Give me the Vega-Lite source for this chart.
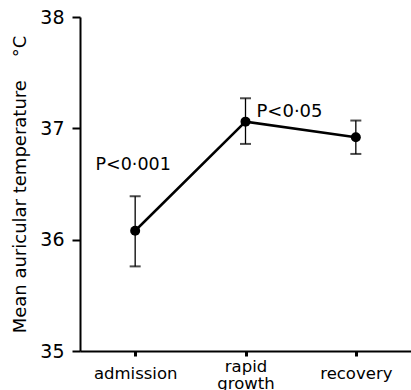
{
  "$schema": "https://vega.github.io/schema/vega-lite/v6.json",
  "width": 331,
  "height": 334,
  "autosize": {"type": "none"},
  "padding": {"left": 80, "top": 17, "right": 0, "bottom": 39},
  "background": "white",
  "config": {
    "view": {"stroke": null},
    "font": "DejaVu Sans"
  },
  "data": {
    "values": [
      {"phase": "admission", "mean": 36.08, "low": 35.76, "high": 36.39, "label": "P<0·001", "labelY": 36.67},
      {"phase": "rapid growth", "mean": 37.06, "low": 36.86, "high": 37.27, "label": "P<0·05", "labelY": 37.15},
      {"phase": "recovery", "mean": 36.92, "low": 36.77, "high": 37.07, "label": null, "labelY": null}
    ]
  },
  "encoding": {
    "x": {
      "field": "phase",
      "type": "nominal",
      "sort": ["admission", "rapid growth", "recovery"],
      "scale": {"type": "point", "padding": 0.5},
      "axis": {
        "title": null,
        "labelAngle": 0,
        "labelExpr": "datum.label == 'rapid growth' ? ['rapid', 'growth'] : datum.label",
        "labelBaseline": "middle",
        "labelLineHeight": 17,
        "labelFontSize": 16.5,
        "labelColor": "black",
        "labelPadding": {"condition": {"test": "datum.value == 'rapid growth'", "value": 10}, "value": 17},
        "tickSize": 5,
        "tickWidth": 3,
        "tickColor": "black",
        "domainColor": "black",
        "domainWidth": 2,
        "grid": false
      }
    }
  },
  "layer": [
    {
      "mark": {"type": "line", "color": "black", "strokeWidth": 2.5},
      "encoding": {
        "y": {
          "field": "mean",
          "type": "quantitative",
          "scale": {"domain": [35, 38], "nice": false, "zero": false},
          "axis": {
            "values": [35, 36, 37, 38],
            "format": "d",
            "title": "Mean auricular temperature\u00a0\u00a0\u00a0\u00a0°C",
            "titleFontSize": 18,
            "titleFontWeight": "normal",
            "titleColor": "black",
            "titleAngle": -90,
            "titleX": -60,
            "titleY": 167,
            "titleAlign": "center",
            "titleBaseline": "middle",
            "labelFontSize": 19,
            "labelColor": "black",
            "labelPadding": 8,
            "tickSize": 8,
            "tickWidth": 2,
            "tickColor": "black",
            "domainColor": "black",
            "domainWidth": 2,
            "grid": false
          }
        }
      }
    },
    {
      "mark": {"type": "rule", "color": "black", "strokeWidth": 1.3},
      "encoding": {
        "y": {"field": "low", "type": "quantitative"},
        "y2": {"field": "high"}
      }
    },
    {
      "mark": {"type": "tick", "color": "black", "thickness": 2, "size": 11},
      "encoding": {"y": {"field": "low", "type": "quantitative"}}
    },
    {
      "mark": {"type": "tick", "color": "black", "thickness": 2, "size": 11},
      "encoding": {"y": {"field": "high", "type": "quantitative"}}
    },
    {
      "mark": {"type": "circle", "color": "black", "opacity": 1, "size": 100},
      "encoding": {"y": {"field": "mean", "type": "quantitative"}}
    },
    {
      "transform": [{"filter": "datum.phase == 'admission'"}],
      "mark": {"type": "text", "fontSize": 17.5, "color": "black", "align": "center", "baseline": "middle", "dx": -2},
      "encoding": {
        "y": {"field": "labelY", "type": "quantitative"},
        "text": {"field": "label"}
      }
    },
    {
      "transform": [{"filter": "datum.phase == 'rapid growth'"}],
      "mark": {"type": "text", "fontSize": 18, "color": "black", "align": "left", "baseline": "middle", "dx": 11},
      "encoding": {
        "y": {"field": "labelY", "type": "quantitative"},
        "text": {"field": "label"}
      }
    }
  ]
}
